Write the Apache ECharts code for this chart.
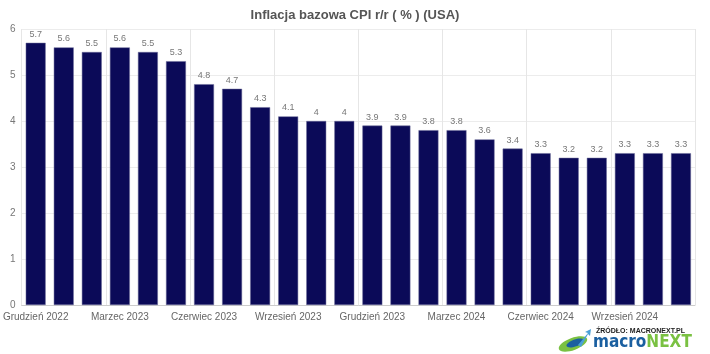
<!DOCTYPE html>
<html>
<head>
<meta charset="utf-8">
<script src="https://cdn.jsdelivr.net/npm/echarts@6/dist/echarts.min.js"></script>
<style>
  html, body { margin: 0; padding: 0; background: #fff; }
  #chart { width: 710px; height: 354px; }
</style>
</head>
<body>
<div id="chart"></div>
<script>
const months = [
  'Grudzień 2022', 'Styczeń 2023', 'Luty 2023', 'Marzec 2023', 'Kwiecień 2023', 'Maj 2023',
  'Czerwiec 2023', 'Lipiec 2023', 'Sierpień 2023', 'Wrzesień 2023', 'Październik 2023', 'Listopad 2023',
  'Grudzień 2023', 'Styczeń 2024', 'Luty 2024', 'Marzec 2024', 'Kwiecień 2024', 'Maj 2024',
  'Czerwiec 2024', 'Lipiec 2024', 'Sierpień 2024', 'Wrzesień 2024', 'Październik 2024', 'Listopad 2024'
]
const coreCpi = [5.7, 5.6, 5.5, 5.6, 5.5, 5.3, 4.8, 4.7, 4.3, 4.1, 4, 4, 3.9, 3.9, 3.8, 3.8, 3.6, 3.4, 3.3, 3.2, 3.2, 3.3, 3.3, 3.3]
const yTicks = [0, 1, 2, 3, 4, 5, 6]

const myChart = echarts.init(document.getElementById('chart'))
const option = {
  animation: false,
  title: {
    text: 'Inflacja bazowa CPI r/r ( % ) (USA)',
    left: 'center',
    top: 4,
    textStyle: { color: '#555', fontSize: 13, fontWeight: 'bold', fontFamily: 'Liberation Sans' }
  },
  grid: { left: 16.5, right: 15, top: 29, bottom: 49 },
  xAxis: {
    type: 'category',
    data: months,
    axisLine: { lineStyle: { color: '#ccc' } },
    axisTick: { show: false },
    axisLabel: {
      interval: 2,
      color: '#666',
      fontSize: 10,
      fontFamily: 'Liberation Sans',
      margin: 7
    },
    splitLine: { show: true, interval: 2, lineStyle: { color: '#e6e6e6' } }
  },
  yAxis: {
    type: 'value',
    min: yTicks[0],
    max: yTicks[yTicks.length - 1],
    interval: 1,
    axisLine: { show: false },
    axisTick: { show: false },
    axisLabel: { color: '#777', fontSize: 10, fontFamily: 'Liberation Sans', margin: 6 },
    splitLine: { lineStyle: { color: '#ececec' } }
  },
  series: [{
    type: 'bar',
    data: coreCpi,
    barCategoryGap: '29%',
    itemStyle: { color: '#0b0a58', borderColor: '#6a6a98', borderWidth: 0.5 },
    label: {
      show: true,
      position: 'top',
      distance: 4,
      color: '#777',
      fontSize: 9,
      fontFamily: 'Liberation Sans'
    }
  }],
  graphic: [
    {
      type: 'text', left: 596, top: 328,
      style: { text: 'ŹRÓDŁO: MACRONEXT.PL', fill: '#222', font: 'bold 7px "Liberation Sans"' }
    },
    {
      type: 'text', left: 593, top: 334,
      style: {
        text: '{a|macro}{b|NEXT}',
        rich: {
          a: { fill: '#1a5fa0', font: 'bold 17px "DejaVu Sans Condensed"' },
          b: { fill: '#7ac142', font: 'bold 17px "DejaVu Sans Condensed"' }
        }
      }
    },
    {
      type: 'ellipse', shape: { cx: 573, cy: 344, rx: 15, ry: 6 },
      rotation: 0.35, originX: 573, originY: 344,
      style: { fill: '#7ac142' }
    },
    {
      type: 'ellipse', shape: { cx: 575, cy: 343, rx: 9, ry: 3.5 },
      rotation: 0.35, originX: 575, originY: 343,
      style: { fill: '#1a5fa0' }
    },
    {
      type: 'polygon', shape: { points: [[578, 345], [588, 333], [585, 332], [591, 329], [590, 336], [588, 334], [581, 347]] },
      style: { fill: '#4aa0d8' }
    }
  ]
}
myChart.setOption(option)
</script>
</body>
</html>
